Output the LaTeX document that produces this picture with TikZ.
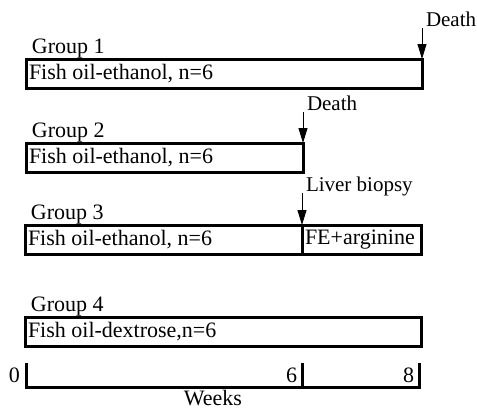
\documentclass[tikz,border=0pt]{standalone}
\usepackage{fontspec}
\setmainfont{Liberation Serif}
\usetikzlibrary{arrows.meta}

\begin{document}
\begin{tikzpicture}[
	x=0.5pt, y=-0.5pt,
	every node/.style={outer sep=0pt, inner sep=0pt, font=\fontsize{11}{13}\selectfont},
	bar/.style={draw, line width=1.5pt, minimum height=14.5pt, anchor=north west},
	event/.style={-{Triangle[width=4.5pt, length=7.5pt]}, line width=0.5pt},
	eventlabel/.style={anchor=base west, xshift=2pt, yshift=1pt, font=\fontsize{10.5}{12}\selectfont},
	axis/.style={line width=1.5pt},
]
\useasboundingbox (0,0) rectangle (477,409);
% \groupbar(name){left}{right}{top}{text}
\def\groupbar(#1)#2#3#4#5{
	\node[bar, minimum width={(#3-#2)*0.5pt}] at (#2,#4) (#1) {};
	\node[anchor=west, xshift=1.5pt] at (#1.west) (#1text) {#5};
}
% \grouplabel(box){text}
\def\grouplabel(#1)#2{
	\node[anchor=base west, xshift=3pt, yshift=3pt] at (#1.north west) (#1label) {#2};
}
% \event(name){x}{top}{target}{text}
\def\event(#1)#2#3#4#5{
	\coordinate (#1) at (#2,#3);
	\draw[event] (#1) -- (#4);
	\node[eventlabel] at (#1) (#1text) {#5};
}
	\groupbar(G1){26}{422}{59}{Fish oil-ethanol, n=6}
	\grouplabel(G1){Group 1}
	\event(D1){422}{28}{G1.north east}{Death}

	\groupbar(G2){26}{303}{143}{Fish oil-ethanol, n=6}
	\grouplabel(G2){Group 2}
	\event(D2){303}{112}{G2.north east}{Death}

	\groupbar(G3){25}{302}{225}{Fish oil-ethanol, n=6}
	\groupbar(G3b){302}{421}{225}{FE+arginine}
	\grouplabel(G3){Group 3}
	\event(LB){302}{193}{G3b.north west}{Liver biopsy}

	\groupbar(G4){25}{421}{317}{Fish oil-dextrose,n=6}
	\grouplabel(G4){Group 4}

	% time axis
	\coordinate (W0) at (26,363);
	\coordinate (W6) at (302,363);
	\coordinate (W8) at (419,363);
	\coordinate (W0b) at (26,387);
	\coordinate (W6b) at (302,387);
	\coordinate (W8b) at (419,387);
	\draw[axis] (W0) -- (W0b) -- (W8b) -- (W8);
	\draw[axis] (W6) -- (W6b);
	\node[anchor=base east, xshift=-3pt, yshift=2.5pt] at (W0b) (L0) {0};
	\node[anchor=base east, xshift=-2.5pt, yshift=2.5pt] at (W6b) (L6) {6};
	\node[anchor=base east, xshift=-2.5pt, yshift=2.5pt] at (W8b) (L8) {8};
	\node[anchor=north] at (213,390) (weeks) {Weeks};
\end{tikzpicture}
\end{document}
